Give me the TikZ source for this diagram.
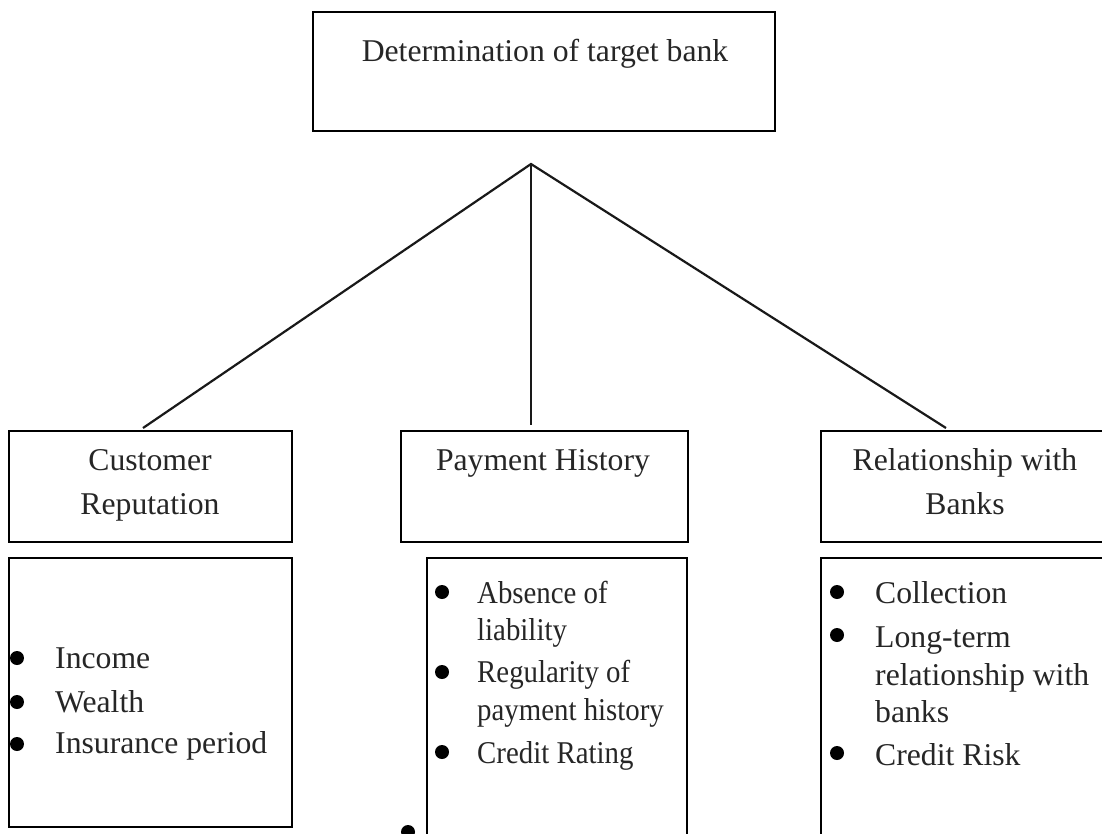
\documentclass[tikz,border=0pt]{standalone}
\usepackage{fontspec}
\setmainfont{Liberation Serif}
\newcommand{\narrowtxt}[1]{\scalebox{0.91}[1]{#1}}
\begin{document}
\begin{tikzpicture}[x=1pt,y=-1pt,
  box/.style={draw=black, line width=2pt, rectangle, inner sep=0pt},
  lbl/.style={font=\fontsize{31.7}{44}\selectfont, text=black!85, inner sep=0pt, anchor=base},
  itm/.style={font=\fontsize{31.7}{44}\selectfont, text=black!85, inner sep=0pt, anchor=base west},
  bul/.style={circle, fill=black, inner sep=0pt, minimum size=14pt},
  conn/.style={draw=black!90, line width=2.2pt}]
\useasboundingbox (0,0) rectangle (1102,834);
\clip (0,0) rectangle (1102,834);
\fill[white] (0,0) rectangle (1102,834);
% boxes
\node[box, minimum width=462pt, minimum height=119pt] (top) at (544,71.5) {};
\node[box, minimum width=283pt, minimum height=111pt] (cr) at (150.5,486.5) {};
\node[box, minimum width=287pt, minimum height=111pt] (ph) at (544.5,486.5) {};
\node[box, minimum width=300pt, minimum height=111pt] (rb) at (971,486.5) {};
\node[box, minimum width=283pt, minimum height=269pt] (crl) at (150.5,692.5) {};
\node[box, minimum width=260pt, minimum height=292pt] (phl) at (557,704) {};
\node[box, minimum width=300pt, minimum height=292pt] (rbl) at (971,704) {};
% titles
\node[lbl] (ttop) at (545,62) {Determination of target bank};
\node[lbl] (tcr1) at (150,470) {Customer};
\node[lbl] (tcr2) at (150,514) {Reputation};
\node[lbl] (tph) at (543,470) {Payment History};
\node[lbl] (trb1) at (965,470) {Relationship with};
\node[lbl] (trb2) at (965,514) {Banks};
% connectors
\coordinate (apex) at (531,164);
\coordinate (ecr) at (143,428);
\coordinate (eph) at (531,425);
\coordinate (erb) at (946,428);
\draw[conn] (ecr) -- (apex) -- (erb);
\draw[conn] (apex) -- (eph);
% customer list
\node[bul] (cb1) at (17,658) {};
\node[itm] (ci1) at (55,668) {Income};
\node[bul] (cb2) at (17,702) {};
\node[itm] (ci2) at (55,712) {Wealth};
\node[bul] (cb3) at (17,744) {};
\node[itm] (ci3) at (55,753) {Insurance period};
% payment list
\node[bul] (pb1) at (442,592) {};
\node[itm] (pi1) at (477,603) {\narrowtxt{Absence of}};
\node[itm] (pi1b) at (477,640) {\narrowtxt{liability}};
\node[bul] (pb2) at (442,672) {};
\node[itm] (pi2) at (477,682) {\narrowtxt{Regularity of}};
\node[itm] (pi2b) at (477,720) {\narrowtxt{payment history}};
\node[bul] (pb3) at (442,752) {};
\node[itm] (pi3) at (477,763) {\narrowtxt{Credit Rating}};
\node[bul] (pstray) at (408,832) {};
% relationship list
\node[bul] (rb1b) at (837,592) {};
\node[itm] (ri1) at (875,603) {Collection};
\node[bul] (rb2b) at (837,635) {};
\node[itm] (ri2) at (875,647) {Long-term};
\node[itm] (ri2b) at (875,685) {relationship with};
\node[itm] (ri2c) at (875,722) {banks};
\node[bul] (rb3b) at (837,753) {};
\node[itm] (ri3) at (875,765) {Credit Risk};
\end{tikzpicture}
\end{document}
